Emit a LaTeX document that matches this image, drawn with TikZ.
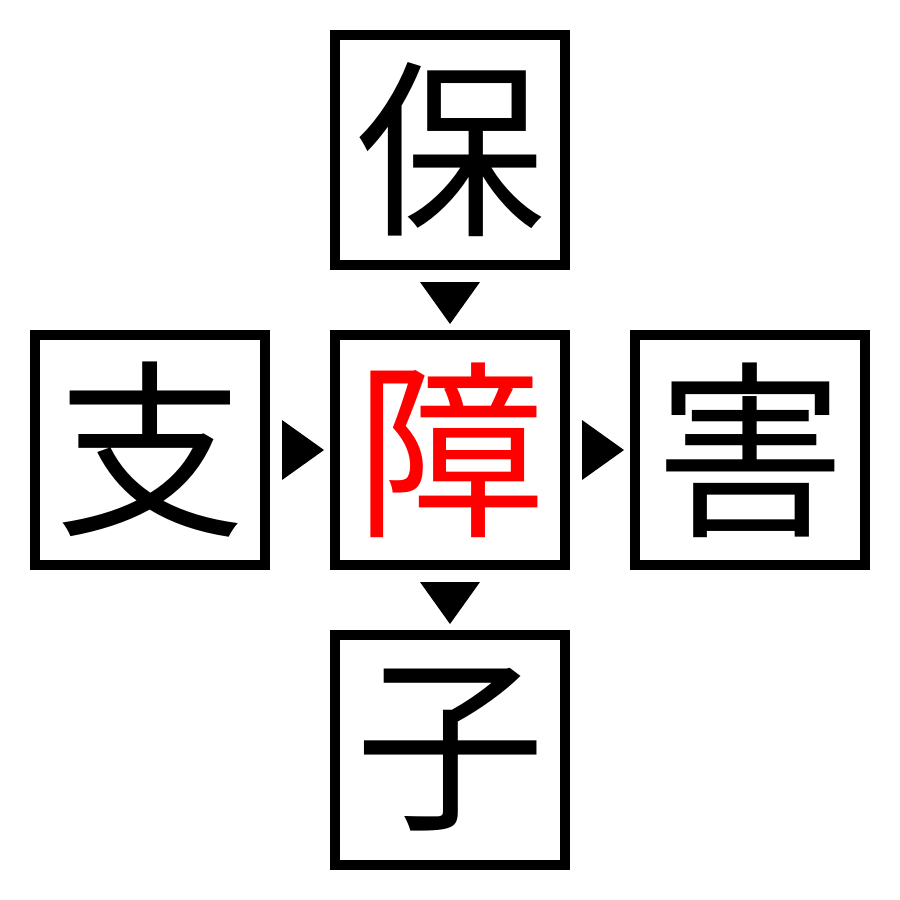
\documentclass[tikz,border=0pt]{standalone}
\usepackage{fontspec}
\newfontfamily\cjk{Noto Sans CJK JP}
\begin{document}
\begin{tikzpicture}[x=1pt,y=-1pt,
  charbox/.style={draw=black,line width=10pt,minimum size=230pt,inner sep=0pt,outer sep=0pt,font=\cjk\fontsize{190}{190}\selectfont},
  tri/.style={fill=black,draw=none}]
\useasboundingbox (0,0) rectangle (900,900);
\node[charbox] (top) at (450,150) {保};
\node[charbox] (left) at (150,450) {支};
\node[charbox,text=red] (mid) at (450,450) {障};
\node[charbox] (right) at (750,450) {害};
\node[charbox] (bot) at (450,750) {子};
\fill[tri] (420,282) -- (480,282) -- (450,324) -- cycle;
\fill[tri] (420,582) -- (480,582) -- (450,624) -- cycle;
\fill[tri] (282,420) -- (282,480) -- (324,450) -- cycle;
\fill[tri] (582,420) -- (582,480) -- (624,450) -- cycle;
\end{tikzpicture}
\end{document}
